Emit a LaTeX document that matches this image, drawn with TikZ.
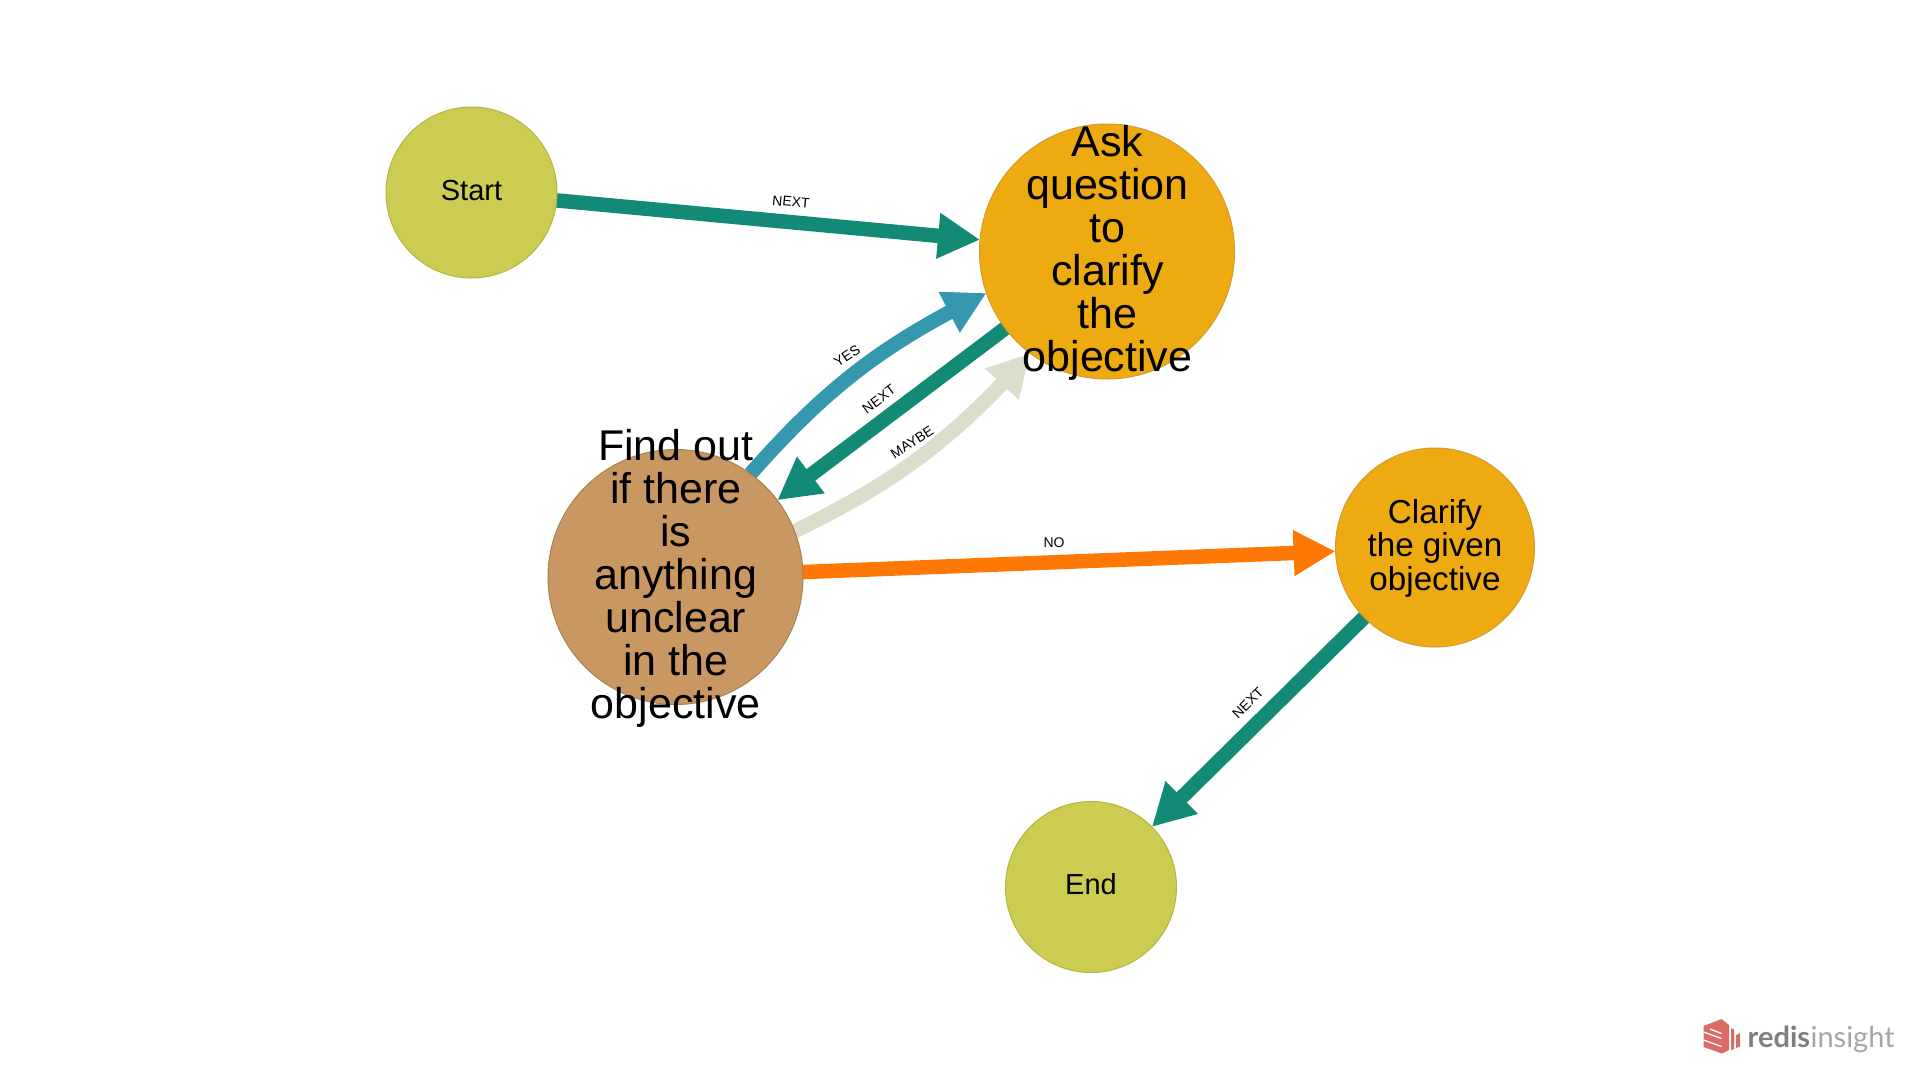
\documentclass[tikz,border=0pt]{standalone}
\usepackage{fontspec}
\setmainfont{Liberation Sans}
\newfontfamily\logofont{Lato}
\usetikzlibrary{arrows.meta,backgrounds,bending}
\definecolor{cteal}{HTML}{138A75}
\definecolor{cblue}{HTML}{3598AE}
\definecolor{cbeige}{HTML}{DCDECC}
\definecolor{corange}{HTML}{FF7803}
\definecolor{nolive}{HTML}{CCCC52}
\definecolor{bolive}{HTML}{B5B545}
\definecolor{namber}{HTML}{EEAA11}
\definecolor{bamber}{HTML}{D29B2E}
\definecolor{nbrown}{HTML}{C99762}
\definecolor{bbrown}{HTML}{A88250}
\definecolor{logored}{HTML}{DA6C65}
\definecolor{logogray}{HTML}{7F7F7F}
\definecolor{logolight}{HTML}{A6A6A6}
\tikzset{
  circ/.style={circle,inner sep=0pt,outer sep=0pt,line width=1pt},
  olive/.style={circ,fill=nolive,draw=bolive,minimum size=171pt},
  amberbig/.style={circ,fill=namber,draw=bamber,minimum size=255pt},
  ambermid/.style={circ,fill=namber,draw=bamber,minimum size=199pt},
  brownbig/.style={circ,fill=nbrown,draw=bbrown,minimum size=255pt},
  bigtext/.style={align=center,inner sep=0pt,font=\fontsize{43}{43}\selectfont},
  midtext/.style={align=center,inner sep=0pt,font=\fontsize{33.2}{33.5}\selectfont},
  smalltext/.style={align=center,inner sep=0pt,font=\fontsize{29}{33}\selectfont},
  edgelabel/.style={inner sep=0pt,font=\fontsize{14}{14}\selectfont},
  rel/.style={line width=14.5pt,-{Triangle[length=42pt,width=43pt,flex=1]}},
}
\begin{document}
\begin{tikzpicture}[x=1pt,y=-1pt]
\useasboundingbox (0,0) rectangle (1920,1080);
% nodes
\node[olive] (start) at (471.5,192.5) {};
\node[amberbig] (ask) at (1107,251.5) {};
\node[brownbig] (find) at (675.5,577) {};
\node[ambermid] (clar) at (1435,547.5) {};
\node[olive] (end) at (1091,887) {};
% edges
\begin{scope}[on background layer]
\fill[white] (0,0) rectangle (1920,1080);
\draw[rel,cteal] (start) -- (ask);
\draw[rel,cblue] (find.54) to[bend left=11] (ask.199.7);
\draw[rel,cteal] (ask) -- (find);
\draw[rel,cbeige] (find.21.6) to[bend right=11] (ask.233.6);
\draw[rel,corange] (find) -- (clar);
\draw[rel,cteal] (clar) -- (end);
\end{scope}
% texts
\node[smalltext] (startt) at (471.5,191) {Start};
\node[bigtext] (askt) at (1107.5,253) {Ask\\question\\to\\clarify\\the\\objective};
\node[bigtext] (findt) at (675.8,578) {Find out\\if there\\is\\anything\\unclear\\in the\\objective};
\node[midtext] (clart) at (1435,548) {Clarify\\the given\\objective};
\node[smalltext] (endt) at (1091,884) {End};
% edge labels
\node[edgelabel,rotate=-5.5] (l1) at (791,202) {NEXT};
\node[edgelabel,rotate=33] (l2) at (847,355.5) {YES};
\node[edgelabel,rotate=37] (l3) at (879,399) {NEXT};
\node[edgelabel,rotate=33] (l4) at (912,442) {MAYBE};
\node[edgelabel] (l5) at (1054,542.5) {NO};
\node[edgelabel,rotate=45] (l6) at (1248,703) {NEXT};
% logo
\begin{scope}[shift={(1680,1000)}]
\fill[logored] (23.5,26) -- (41.5,19) -- (49,25) -- (49,50) -- (42,53.5) -- (23.5,47) -- cycle;
\draw[white,line width=1.3pt] (23.5,32) -- (41.5,38.5) (23.5,40) -- (41.5,46.5) (30,29) -- (41.5,33.5);
\fill[logored] (51,28) -- (54,29.5) -- (54,49) -- (51,50) -- cycle;
\fill[logored] (56,35) -- (60,33) -- (60,46.5) -- (56,48) -- cycle;
\node[anchor=base west,inner sep=0pt,text=logogray,font=\logofont\bfseries\fontsize{29}{29}\selectfont] (logoa) at (67.5,47) {redis};
\node[anchor=base west,inner sep=0pt,text=logolight,font=\logofont\fontsize{29}{29}\selectfont] (logob) at (logoa.base east) {insight};
\end{scope}
\end{tikzpicture}
\end{document}
